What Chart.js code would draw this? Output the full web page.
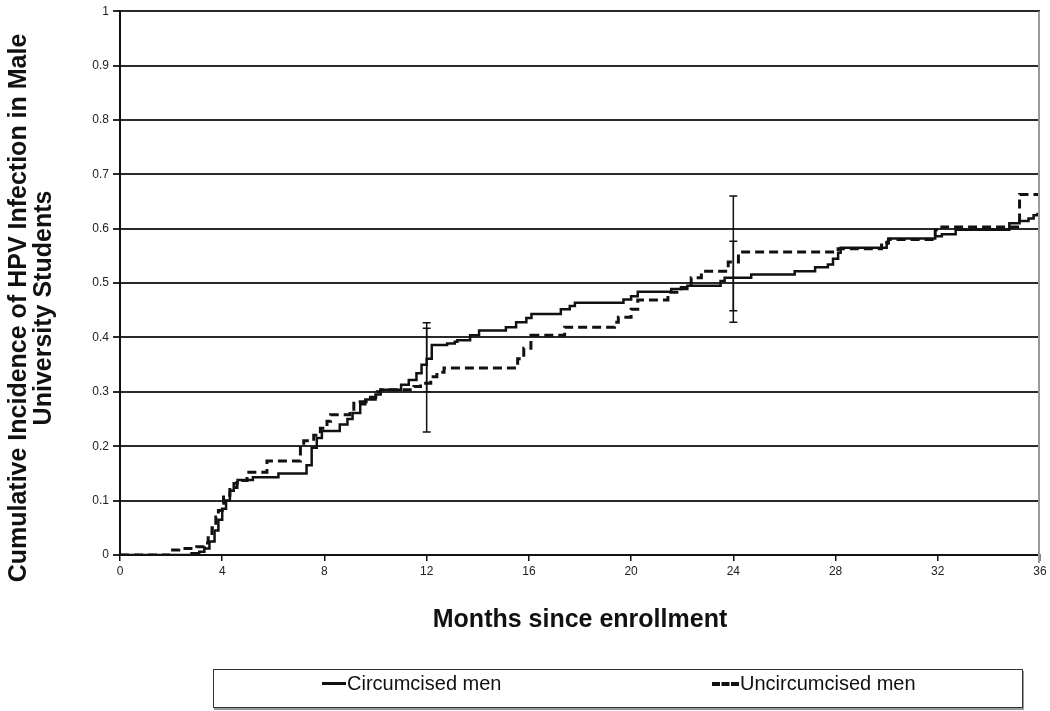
<!DOCTYPE html>
<html>
<head>
<meta charset="utf-8">
<script src="https://cdn.jsdelivr.net/npm/chart.js@4"></script>
<style>
  body { margin: 0; background: #fff; font-family: "Liberation Sans", Arial, sans-serif; }
  #wrap { position: relative; width: 1050px; height: 711px; }
  #legend {
    position: absolute; left: 213px; top: 669px; width: 808px; height: 37px;
    border: 1px solid #333; box-shadow: 1px 2px 0 #999;
    font-size: 20px; color: #111;
  }
  .item { position: absolute; top: 2px; display: flex; align-items: center; }
  .sample { width: 24px; height: 0; margin-right: 1px; }
</style>
</head>
<body>
<div id="wrap">
  <canvas id="chartData" width="1050" height="711"></canvas>
  <div id="legend">
    <div class="item" style="left:108px"><span class="sample" style="border-top:3px solid #111"></span>Circumcised men</div>
    <div class="item" style="left:498px"><span class="sample" style="border-top:4px dashed #111;width:27px"></span>Uncircumcised men</div>
  </div>
</div>
<script>
// Kaplan-Meier style step points
const circMonths = [0, 2.8, 3.1, 3.3, 3.5, 3.7, 3.85, 4.0, 4.15, 4.3, 4.45, 4.6, 5.2, 6.2, 7.3, 7.5, 7.7, 7.9,
  8.6, 8.9, 9.1, 9.4, 9.6, 10.0, 10.2, 11.0, 11.3, 11.6, 11.8, 12.0, 12.2, 12.8, 13.1, 13.2, 13.7, 14.05,
  15.1, 15.5, 15.9, 16.1, 17.25, 17.6, 17.8, 19.7, 20.0, 20.26, 21.57, 22.2, 23.5, 23.66, 24.7, 26.4,
  27.2, 27.7, 27.9, 28.1, 28.2, 30.0, 30.07, 31.9, 32.16, 32.7, 34.8, 35.2, 35.55, 35.75, 35.9, 36];
const circValues = [0, 0.003, 0.006, 0.012, 0.025, 0.045, 0.065, 0.085, 0.1, 0.118, 0.132, 0.138, 0.143, 0.15, 0.165, 0.197, 0.215, 0.228,
  0.24, 0.25, 0.261, 0.277, 0.286, 0.295, 0.304, 0.313, 0.322, 0.334, 0.35, 0.361, 0.386, 0.389, 0.392, 0.395, 0.404, 0.413,
  0.419, 0.428, 0.436, 0.443, 0.452, 0.458, 0.464, 0.47, 0.476, 0.484, 0.489, 0.495, 0.504, 0.51, 0.516, 0.522,
  0.529, 0.534, 0.545, 0.556, 0.565, 0.573, 0.582, 0.586, 0.59, 0.598, 0.61, 0.614, 0.619, 0.625, 0.627, 0.627];

const uncircMonths = [0, 1.96, 2.3, 3.0, 3.3, 3.45, 3.6, 3.75, 3.85, 4.0, 4.05, 4.3, 4.58, 4.97, 5.75, 7.06, 7.19, 7.58,
  7.84, 8.1, 8.24, 9.0, 9.15, 9.8, 10.07, 10.2, 11.5, 11.76, 12.16, 12.4, 12.68, 15.56, 15.8, 16.08,
  17.4, 19.35, 19.5, 20.0, 20.26, 21.44, 21.96, 22.35, 22.75, 23.8, 24.2, 24.3, 28.1, 29.8, 30.07, 31.9,
  32.16, 35.2, 36];
const uncircValues = [0, 0.009, 0.012, 0.015, 0.022, 0.035, 0.05, 0.07, 0.082, 0.095, 0.11, 0.124, 0.137, 0.152, 0.173, 0.2, 0.21, 0.22,
  0.233, 0.246, 0.258, 0.264, 0.282, 0.29, 0.3, 0.304, 0.31, 0.316, 0.328, 0.336, 0.344, 0.361, 0.38, 0.404,
  0.419, 0.428, 0.437, 0.452, 0.469, 0.483, 0.492, 0.51, 0.522, 0.539, 0.55, 0.557, 0.563, 0.575, 0.58, 0.598,
  0.603, 0.663, 0.663];

// confidence intervals at 12 and 24 months
const errMonths = [12, 12, 24, 24];
const errLow = [0.30, 0.226, 0.428, 0.449];
const errHigh = [0.427, 0.417, 0.577, 0.66];

const xTickStep = 4;
const yTickStep = 0.1;
const yTitleLines = ['Cumulative Incidence of HPV Infection in Male', 'University Students'];

const FONT = '"Liberation Sans", Arial, sans-serif';
const toPoints = (xs, ys) => xs.map((x, i) => ({ x: x, y: ys[i] }));

const errorBars = {
  id: 'errorBars',
  afterDatasetsDraw(chart) {
    const { ctx, scales: { x, y }, chartArea } = chart;
    ctx.save();
    ctx.strokeStyle = '#111';
    ctx.lineWidth = 1.5;
    errMonths.forEach((m, i) => {
      const px = x.getPixelForValue(m);
      const lo = y.getPixelForValue(errLow[i]);
      const hi = y.getPixelForValue(errHigh[i]);
      ctx.beginPath();
      ctx.moveTo(px, lo); ctx.lineTo(px, hi);
      ctx.moveTo(px - 4, lo); ctx.lineTo(px + 4, lo);
      ctx.moveTo(px - 4, hi); ctx.lineTo(px + 4, hi);
      ctx.stroke();
    });
    // light frame on the right side of the plot
    ctx.strokeStyle = '#9a9a9a';
    ctx.lineWidth = 2;
    ctx.beginPath();
    ctx.moveTo(chartArea.right - 1, chartArea.top);
    ctx.lineTo(chartArea.right - 1, chartArea.bottom + 8);
    ctx.stroke();
    ctx.restore();
  }
};

// y title drawn by hand so it can sit a bit lower than the axis centre, like the original
const yTitle = {
  id: 'yTitle',
  afterDraw(chart) {
    const { ctx } = chart;
    ctx.save();
    ctx.fillStyle = '#111';
    ctx.font = 'bold 25px ' + FONT;
    ctx.textAlign = 'center';
    ctx.textBaseline = 'middle';
    ctx.translate(19, 308);
    ctx.rotate(-Math.PI / 2);
    yTitleLines.forEach((t, i) => ctx.fillText(t, 0, i * 25));
    ctx.restore();
  }
};

const ctx = document.getElementById('chartData').getContext('2d');
new Chart(ctx, {
  type: 'scatter',
  data: {
    datasets: [{
      label: 'Circumcised men',
      data: toPoints(circMonths, circValues),
      showLine: true,
      stepped: true,
      borderColor: '#111',
      borderWidth: 2.5,
      pointRadius: 0,
    }, {
      label: 'Uncircumcised men',
      data: toPoints(uncircMonths, uncircValues),
      showLine: true,
      stepped: true,
      borderColor: '#111',
      borderWidth: 3,
      borderDash: [9, 5],
      pointRadius: 0,
    }],
  },
  options: {
    responsive: false,
    animation: false,
    layout: { padding: { top: 6, right: 10, left: 0, bottom: 0 } },
    plugins: { legend: { display: false }, tooltip: { enabled: false } },
    scales: {
      x: {
        type: 'linear',
        min: 0,
        max: 36,
        ticks: { stepSize: xTickStep, color: '#222', padding: 3, font: { size: 12, family: FONT } },
        grid: { drawOnChartArea: false, color: '#111', tickLength: 6, lineWidth: 1.5 },
        border: { color: '#111', width: 2 },
        title: {
          display: true,
          text: 'Months since enrollment',
          color: '#111',
          font: { size: 25, weight: 'bold', family: FONT },
          padding: { top: 4, bottom: 76 },
        },
        afterFit: s => { s.height = 156; },
      },
      y: {
        min: 0,
        max: 1,
        ticks: {
          stepSize: yTickStep, color: '#222', padding: 4, font: { size: 12, family: FONT },
          callback: v => String(Math.round(v * 10) / 10),
        },
        grid: { color: '#2a2a2a', lineWidth: 2, tickLength: 7 },
        border: { color: '#111', width: 2 },
        afterFit: s => { s.width = 120; },
      },
    },
  },
  plugins: [errorBars, yTitle],
});
</script>
</body>
</html>
